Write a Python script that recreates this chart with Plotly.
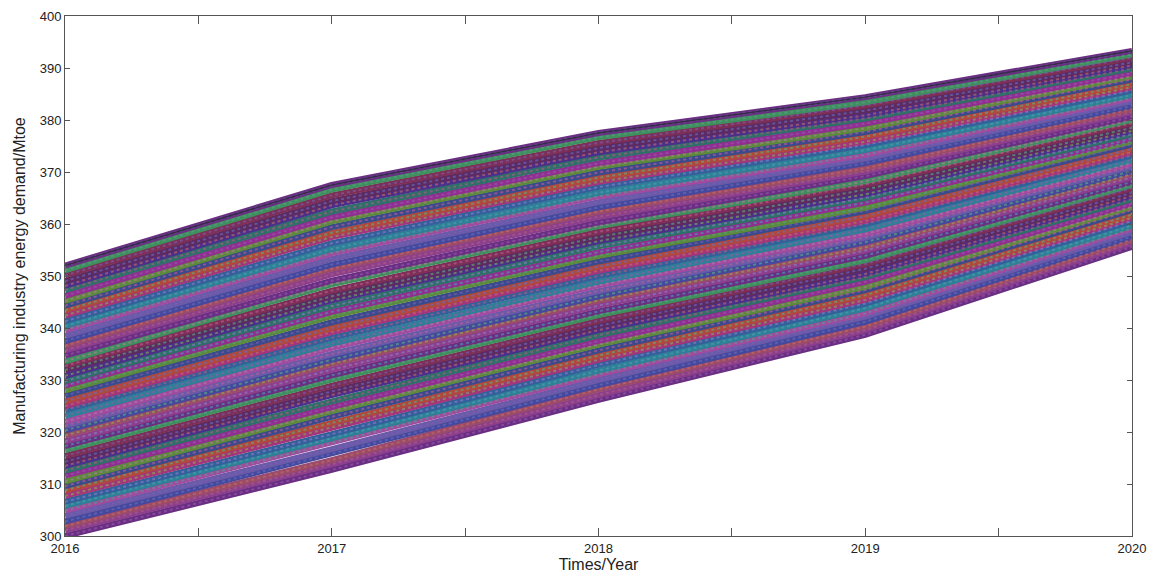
import plotly.graph_objects as go

years = [2016, 2017, 2018, 2019, 2020]

# Simulated demand paths (Mtoe), one entry per path, read from the picture's band
y2016 = [300.0, 301.1, 301.9, 302.8, 303.9, 304.9, 305.8, 306.6, 307.7, 308.8,
         309.6, 310.5, 311.6, 312.6, 313.5, 314.3, 315.4, 316.5, 317.3, 318.2,
         319.3, 320.3, 321.2, 322.0, 323.1, 324.2, 325.0, 325.9, 327.0, 328.0,
         328.9, 329.8, 330.8, 331.9, 332.7, 333.6, 334.7, 335.7, 336.6, 337.5,
         338.5, 339.6, 340.4, 341.3, 342.4, 343.4, 344.3, 345.2, 346.2, 347.3,
         348.1, 349.0, 350.1, 351.1, 352.0]
y2017 = [312.7, 313.8, 314.6, 315.8, 316.7, 317.9, 318.8, 319.6, 320.9, 321.7,
         322.9, 324.0, 324.8, 325.9, 327.1, 327.8, 328.9, 330.1, 330.9, 332.0,
         333.1, 333.9, 335.0, 336.2, 337.0, 338.1, 339.2, 340.0, 341.1, 342.3,
         343.1, 344.2, 345.3, 346.1, 347.2, 348.4, 349.1, 350.3, 351.4, 352.2,
         353.3, 354.4, 355.2, 356.3, 357.5, 358.3, 359.4, 360.5, 361.3, 362.4,
         363.6, 364.4, 365.5, 366.6, 367.5]
y2018 = [326.2, 327.1, 328.2, 329.0, 330.0, 331.1, 331.8, 332.9, 333.9, 334.7,
         335.7, 336.8, 337.5, 338.6, 339.6, 340.4, 341.4, 342.5, 343.2, 344.3,
         345.3, 346.1, 347.1, 348.2, 348.9, 350.0, 351.0, 351.8, 352.8, 353.9,
         354.6, 355.7, 356.7, 357.5, 358.5, 359.6, 360.3, 361.4, 362.4, 363.2,
         364.2, 365.3, 366.0, 367.1, 368.1, 368.9, 369.9, 371.0, 371.7, 372.8,
         373.8, 374.6, 375.6, 376.7, 377.5]
y2019 = [338.7, 339.6, 340.3, 341.2, 342.2, 342.8, 343.8, 344.7, 345.4, 346.3,
         347.3, 347.9, 348.9, 349.8, 350.4, 351.4, 352.3, 353.0, 353.9, 354.9,
         355.5, 356.5, 357.4, 358.1, 359.0, 360.0, 360.6, 361.5, 362.5, 363.1,
         364.1, 365.0, 365.7, 366.6, 367.6, 368.2, 369.2, 370.1, 370.7, 371.7,
         372.6, 373.3, 374.2, 375.2, 375.8, 376.8, 377.7, 378.4, 379.3, 380.3,
         380.9, 381.8, 382.8, 383.4, 384.4]
y2020 = [355.6, 356.4, 357.0, 357.6, 358.5, 359.1, 359.7, 360.6, 361.2, 361.8,
         362.7, 363.3, 363.9, 364.8, 365.4, 366.0, 366.9, 367.5, 368.1, 369.0,
         369.6, 370.2, 371.1, 371.7, 372.3, 373.2, 373.8, 374.4, 375.3, 375.9,
         376.4, 377.3, 377.9, 378.5, 379.4, 380.0, 380.6, 381.5, 382.1, 382.7,
         383.6, 384.2, 384.8, 385.7, 386.3, 386.9, 387.8, 388.4, 389.0, 389.9,
         390.5, 391.1, 392.0, 392.6, 393.3]

x_ticks = [2016, 2016.5, 2017, 2017.5, 2018, 2018.5, 2019, 2019.5, 2020]
x_tick_text = ["2016", "", "2017", "", "2018", "", "2019", "", "2020"]
y_ticks = [300, 310, 320, 330, 340, 350, 360, 370, 380, 390, 400]

palette = ["#6a2f82", "#2f6f6a", "#a3357a", "#45489c", "#7d2f55", "#5c8a3a",
           "#2f7f96", "#8c3f8c", "#4b2f8a", "#b0483e", "#6a5aa8", "#3f8f5e",
           "#8f2f8f", "#33609a", "#9a4a6a", "#5e2a62", "#3a4a8a", "#a04aa0"]
dots = ["#9a5ab0", "#5aa088", "#c0609a", "#6870c0", "#8cb050", "#b06080",
        "#50a0b8", "#b080a0", "#7a60b8", "#60b080", "#c87060", "#9080c8"]

fig = go.Figure()
n = len(y2016)
for i in range(n):
    ys = [y2016[i], y2017[i], y2018[i], y2019[i], y2020[i]]
    fig.add_trace(go.Scatter(x=years, y=ys, mode="lines",
                             line=dict(color=palette[(i * 7) % len(palette)], width=6),
                             showlegend=False, hoverinfo="skip"))
for i in range(n):
    ys = [y2016[i], y2017[i], y2018[i], y2019[i], y2020[i]]
    fig.add_trace(go.Scatter(x=years, y=ys, mode="lines",
                             line=dict(color=dots[(i * 5) % len(dots)], width=2, dash="dot"),
                             opacity=0.6, showlegend=False, hoverinfo="skip"))
# dark outline of the top path
top = [y2016[-1], y2017[-1], y2018[-1], y2019[-1], y2020[-1]]
fig.add_trace(go.Scatter(x=years, y=top, mode="lines",
                         line=dict(color="#3a2a4a", width=1.5),
                         showlegend=False, hoverinfo="skip"))

axis_font = dict(family="Arial, Liberation Sans, sans-serif", size=13, color="#222")
fig.update_layout(
    width=1149, height=574,
    margin=dict(l=65, r=17, t=16, b=38),
    paper_bgcolor="white", plot_bgcolor="white",
    font=axis_font,
    xaxis=dict(range=[2016, 2020], tickvals=x_ticks, ticktext=x_tick_text,
               ticks="inside", ticklen=8, tickcolor="#555", showline=True,
               linecolor="#555", linewidth=1, mirror="ticks", showgrid=False,
               zeroline=False, tickfont=axis_font, automargin=False,
               title=dict(text="Times/Year", font=dict(size=16, color="#222"), standoff=1)),
    yaxis=dict(range=[300, 400], tickvals=y_ticks,
               ticks="inside", ticklen=5, tickcolor="#555", showline=True,
               linecolor="#555", linewidth=1, mirror="ticks", showgrid=False,
               zeroline=False, tickfont=axis_font, automargin=False,
               title=dict(text="Manufacturing industry energy demand/Mtoe",
                          font=dict(size=16, color="#222"), standoff=10)),
)

fig.write_html("out.html")
